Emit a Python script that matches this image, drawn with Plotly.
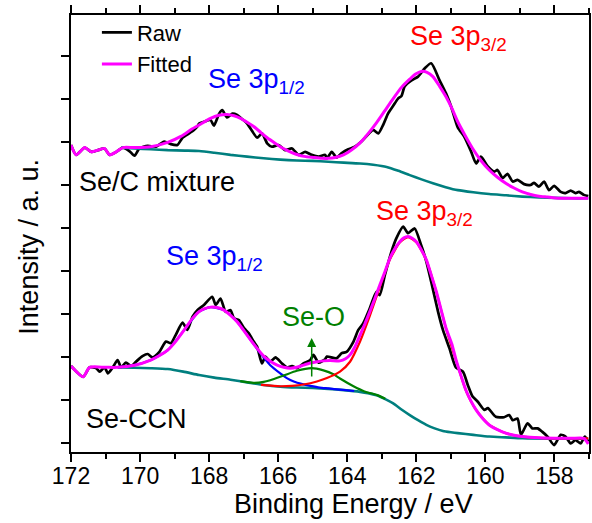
import plotly.graph_objects as go

# ---------------- data (binding energy eV, intensity a.u.) ----------------
# Se/C mixture (upper spectrum)
top_raw_E = [172.0, 171.85, 171.6, 171.41, 171.22, 171.03, 170.88, 170.69, 170.5, 170.31, 170.16, 170.02,
             169.78, 169.54, 169.3, 169.11, 168.92, 168.77, 168.58, 168.44, 168.34, 168.29, 168.15, 167.96,
             167.86, 167.71, 167.62, 167.48, 167.33, 167.19, 167.04, 166.9, 166.76, 166.61, 166.47, 166.32,
             166.18, 165.99, 165.8, 165.6, 165.41, 165.22, 165.03, 164.83, 164.64, 164.59, 164.45, 164.31,
             164.16, 163.97, 163.78, 163.59, 163.44, 163.25, 163.1, 162.96, 162.82, 162.67, 162.53, 162.43,
             162.34, 162.14, 161.95, 161.76, 161.57, 161.33, 161.14, 160.99, 160.8, 160.61, 160.41, 160.27,
             160.13, 159.93, 159.74, 159.65, 159.5, 159.36, 159.21, 159.07, 158.88, 158.69, 158.59, 158.45,
             158.3, 158.16, 158.01, 157.82, 157.68, 157.53, 157.39, 157.29, 157.15, 157.02]
top_raw_I = [6.93, 6.70, 6.87, 6.77, 6.81, 6.85, 6.70, 6.77, 6.87, 6.79, 6.68, 6.85,
             6.91, 6.89, 7.01, 6.95, 6.93, 7.10, 7.20, 7.28, 7.36, 7.43, 7.47, 7.51,
             7.38, 7.66, 7.74, 7.57, 7.66, 7.63, 7.53, 7.43, 7.26, 7.10, 7.20, 6.97,
             6.89, 6.93, 6.81, 6.85, 6.70, 6.77, 6.70, 6.66, 6.70, 6.62, 6.77, 6.64,
             6.74, 6.83, 6.89, 7.01, 7.14, 7.28, 7.20, 7.40, 7.66, 7.84, 8.01, 8.07,
             8.29, 8.43, 8.52, 8.71, 8.83, 8.44, 8.13, 7.82, 7.34, 7.12, 6.77, 6.50,
             6.66, 6.43, 6.31, 6.35, 6.16, 6.26, 6.08, 6.12, 6.02, 6.00, 6.05, 5.96,
             6.08, 5.88, 5.98, 5.84, 5.81, 5.87, 5.81, 5.84, 5.77, 5.74]

top_fit_E = [172.0, 171.85, 171.6, 171.41, 171.22, 171.03, 170.88, 170.69, 170.5, 170.16, 169.69, 169.2,
             168.82, 168.5, 168.3, 167.96, 167.72, 167.48, 167.28, 167.09, 166.9, 166.71, 166.5, 166.32,
             166.12, 165.94, 165.7, 165.46, 165.2, 164.98, 164.74, 164.55, 164.35, 164.11, 163.87, 163.63,
             163.39, 163.15, 162.91, 162.67, 162.43, 162.19, 162.02, 161.86, 161.69, 161.52, 161.33, 161.14,
             160.97, 160.8, 160.6, 160.37, 160.13, 159.89, 159.65, 159.41, 159.17, 158.93, 158.69, 158.45,
             158.2, 157.97, 157.5, 157.02]
top_fit_I = [6.93, 6.70, 6.87, 6.77, 6.81, 6.85, 6.70, 6.77, 6.87, 6.87, 6.89, 6.99,
             7.13, 7.30, 7.39, 7.55, 7.62, 7.64, 7.61, 7.55, 7.46, 7.36, 7.22, 7.10,
             6.99, 6.89, 6.79, 6.71, 6.66, 6.64, 6.62, 6.62, 6.64, 6.70, 6.82, 6.98,
             7.20, 7.45, 7.73, 8.01, 8.27, 8.46, 8.58, 8.64, 8.62, 8.52, 8.30, 8.05,
             7.78, 7.47, 7.17, 6.85, 6.57, 6.35, 6.18, 6.04, 5.93, 5.84, 5.78, 5.74,
             5.72, 5.70, 5.69, 5.69]

top_bg_E = [170.55, 170.16, 169.69, 169.2, 168.7, 168.29, 167.85, 167.38, 166.9, 166.42, 165.94, 165.46,
            165.0, 164.55, 164.1, 163.63, 163.25, 162.86, 162.52, 162.19, 161.85, 161.52, 161.15, 160.8,
            160.35, 159.89, 159.4, 158.93, 158.45, 157.97, 157.5, 157.02]
top_bg_I = [6.87, 6.85, 6.83, 6.81, 6.80, 6.79, 6.75, 6.70, 6.66, 6.62, 6.59, 6.57,
            6.56, 6.54, 6.52, 6.50, 6.47, 6.42, 6.33, 6.23, 6.13, 6.04, 5.95, 5.88,
            5.83, 5.79, 5.76, 5.73, 5.71, 5.70, 5.69, 5.69]

# Se-CCN (lower spectrum)
bot_raw_E = [172.0, 171.65, 171.46, 171.27, 171.17, 171.03, 170.93, 170.79, 170.65, 170.55, 170.41, 170.26,
             170.12, 169.93, 169.78, 169.64, 169.44, 169.25, 169.11, 168.97, 168.77, 168.63, 168.48, 168.34,
             168.15, 167.91, 167.81, 167.67, 167.52, 167.38, 167.28, 167.14, 166.99, 166.85, 166.71, 166.61,
             166.47, 166.37, 166.23, 166.08, 165.89, 165.75, 165.6, 165.46, 165.27, 165.07, 164.98, 164.83,
             164.64, 164.59, 164.31, 164.16, 164.02, 163.82, 163.68, 163.54, 163.35, 163.15, 163.06, 162.91,
             162.72, 162.58, 162.38, 162.24, 162.05, 161.86, 161.71, 161.57, 161.37, 161.23, 161.04, 160.85,
             160.65, 160.51, 160.37, 160.22, 160.03, 159.93, 159.7, 159.46, 159.31, 159.21, 159.07, 158.97,
             158.78, 158.64, 158.49, 158.35, 158.2, 158.01, 157.82, 157.68, 157.53, 157.39, 157.24, 157.12,
             157.02]
bot_raw_I = [1.79, 1.54, 1.76, 1.74, 1.66, 1.76, 1.62, 1.76, 1.93, 1.76, 1.87, 1.79,
             1.89, 2.02, 2.07, 1.99, 2.12, 2.36, 2.32, 2.51, 2.80, 2.63, 2.94, 3.09,
             3.21, 3.40, 3.21, 3.36, 3.05, 3.09, 2.90, 2.86, 2.67, 2.55, 2.36, 2.24,
             1.85, 2.01, 1.89, 1.99, 1.85, 1.76, 1.79, 1.74, 1.85, 1.93, 2.05, 1.87,
             1.95, 2.01, 1.97, 2.09, 2.12, 2.36, 2.63, 2.78, 3.13, 3.52, 3.44, 3.91,
             4.45, 4.76, 5.03, 4.88, 4.99, 4.60, 4.22, 3.75, 3.05, 2.63, 2.20, 1.75,
             1.66, 1.35, 1.08, 0.96, 0.77, 0.81, 0.61, 0.60, 0.65, 0.53, 0.57, 0.19,
             0.46, 0.34, 0.34, 0.26, 0.15, -0.05, 0.19, 0.15, -0.01, 0.07, -0.01, 0.15,
             0.03]

bot_fit_E = [172.0, 171.65, 171.46, 171.0, 170.65, 170.16, 169.69, 169.45, 169.2, 168.96, 168.72, 168.5,
             168.3, 168.15, 167.96, 167.77, 167.57, 167.38, 167.19, 167.0, 166.8, 166.61, 166.42, 166.23,
             166.03, 165.84, 165.65, 165.46, 165.27, 165.07, 164.88, 164.69, 164.5, 164.21, 164.05, 163.92,
             163.77, 163.63, 163.49, 163.35, 163.2, 163.06, 162.91, 162.77, 162.62, 162.48, 162.36, 162.24,
             162.12, 162.0, 161.86, 161.71, 161.57, 161.42, 161.28, 161.14, 160.97, 160.85, 160.7, 160.56,
             160.42, 160.27, 160.08, 159.89, 159.65, 159.41, 159.17, 158.93, 158.45, 157.97, 157.5, 157.15,
             157.02]
bot_fit_I = [1.79, 1.54, 1.76, 1.76, 1.76, 1.81, 1.93, 2.03, 2.16, 2.37, 2.63, 2.88,
             3.05, 3.12, 3.16, 3.15, 3.09, 2.97, 2.82, 2.62, 2.40, 2.20, 2.02, 1.90,
             1.81, 1.76, 1.74, 1.76, 1.81, 1.86, 1.89, 1.91, 1.92, 1.91, 1.96, 2.05,
             2.25, 2.51, 2.77, 3.05, 3.36, 3.67, 3.98, 4.29, 4.52, 4.68, 4.77, 4.80,
             4.76, 4.68, 4.50, 4.26, 3.91, 3.52, 3.09, 2.67, 2.30, 1.93, 1.55, 1.22,
             0.98, 0.77, 0.57, 0.42, 0.31, 0.23, 0.18, 0.15, 0.12, 0.11, 0.11, 0.11,
             -0.02]

bot_bg_E = [170.65, 170.16, 169.69, 169.2, 168.75, 168.29, 167.85, 167.38, 166.9, 166.42, 165.94, 165.46,
            165.0, 164.55, 164.1, 163.63, 163.4, 163.15, 162.9, 162.67, 162.43, 162.19, 161.95, 161.71,
            161.47, 161.23, 161.0, 160.8, 160.35, 159.89, 159.41, 158.93, 158.0, 157.02]
bot_bg_I = [1.76, 1.75, 1.74, 1.72, 1.66, 1.58, 1.52, 1.47, 1.41, 1.35, 1.31, 1.29,
            1.28, 1.26, 1.23, 1.19, 1.16, 1.11, 1.02, 0.92, 0.78, 0.65, 0.53, 0.42,
            0.34, 0.28, 0.25, 0.23, 0.19, 0.15, 0.13, 0.11, 0.10, 0.10]

# Se 3p1/2 component (+ background)
bot_p12_E = [170.65, 170.16, 169.69, 169.2, 168.72, 168.3, 167.96, 167.57, 167.19, 166.8, 166.52, 166.23,
             165.94, 165.75, 165.55, 165.3, 165.07, 164.8, 164.55, 164.2, 163.8]
bot_p12_I = [1.76, 1.81, 1.93, 2.16, 2.63, 3.05, 3.16, 3.09, 2.82, 2.40, 2.09, 1.81,
             1.62, 1.51, 1.43, 1.37, 1.33, 1.29, 1.27, 1.24, 1.21]

# Se-O component (+ background)
bot_seo_E = [167.1, 166.71, 166.42, 166.23, 165.84, 165.46, 165.03, 164.69, 164.4, 164.21, 163.82, 163.5,
             163.15, 162.9]
bot_seo_I = [1.44, 1.40, 1.42, 1.46, 1.57, 1.68, 1.74, 1.69, 1.60, 1.50, 1.32, 1.20,
             1.12, 1.03]

# Se 3p3/2 component (+ background)
bot_p32_E = [166.5, 165.94, 165.6, 165.27, 164.88, 164.59, 164.21, 163.92, 163.63, 163.35, 163.06, 162.77,
             162.48, 162.24, 162.0, 161.71, 161.42, 161.14, 160.85, 160.56, 160.27, 159.89, 159.41, 158.93,
             157.97, 157.02]
bot_p32_I = [1.35, 1.32, 1.33, 1.36, 1.43, 1.51, 1.66, 1.89, 2.36, 2.95, 3.62, 4.26,
             4.66, 4.79, 4.67, 4.25, 3.51, 2.66, 1.92, 1.21, 0.77, 0.42, 0.23, 0.15,
             0.11, 0.11]

x_ticks = [172, 170, 168, 166, 164, 162, 160, 158]
y_ticks = [0, 1, 2, 3, 4, 5, 6, 7, 8, 9]

# ---------------- styling ----------------
FONT = "Liberation Sans, Arial, sans-serif"
BLACK = "#000000"
MAGENTA = "#FF00FF"
TEAL = "#007F7F"
BLUE = "#0000FF"
RED = "#FF0000"
GREEN = "#008000"

fig = go.Figure()


def add_line(x, y, color, width, name=None, legend=False):
    fig.add_trace(go.Scatter(x=x, y=y, mode="lines", line=dict(color=color, width=width, shape="spline", smoothing=0.6),
                             name=name, showlegend=legend, hoverinfo="skip"))


# raw data
add_line(top_raw_E, top_raw_I, BLACK, 2.7, "Raw", True)
add_line(bot_raw_E, bot_raw_I, BLACK, 2.7)
# backgrounds
add_line(top_bg_E, top_bg_I, TEAL, 2.6)
add_line(bot_bg_E, bot_bg_I, TEAL, 2.6)
# components
add_line(bot_p12_E, bot_p12_I, BLUE, 2.2)
add_line(bot_seo_E, bot_seo_I, GREEN, 2.2)
add_line(bot_p32_E, bot_p32_I, RED, 2.2)
# fitted envelopes
add_line(top_fit_E, top_fit_I, MAGENTA, 3.0, "Fitted", True)
add_line(bot_fit_E, bot_fit_I, MAGENTA, 3.0)

ann = []


def label(text, x, y, color, size=27):
    ann.append(dict(text=text, x=x, y=y, xref="x", yref="y", xanchor="left", yanchor="middle",
                    showarrow=False, font=dict(family=FONT, size=size, color=color)))


label("Se 3p<sub>1/2</sub>", 168.08, 8.42, BLUE)
label("Se 3p<sub>3/2</sub>", 162.25, 9.42, RED)
label("Se 3p<sub>3/2</sub>", 163.24, 5.36, RED)
label("Se 3p<sub>1/2</sub>", 169.32, 4.30, BLUE)
label("Se-O", 165.96, 2.92, GREEN)
label("Se/C mixture", 171.84, 6.08, BLACK)
label("Se-CCN", 171.63, 0.55, BLACK)

# arrow marking the Se-O component
ann.append(dict(x=165.03, y=2.44, ax=165.03, ay=1.51, xref="x", yref="y", axref="x", ayref="y",
                text="", showarrow=True, arrowhead=2, arrowsize=1.2, arrowwidth=1.5, arrowcolor=GREEN))

# axis titles as annotations
ann.append(dict(text="Binding Energy / eV", x=0.546, y=-0.119, xref="paper", yref="paper",
                xanchor="center", yanchor="middle", showarrow=False,
                font=dict(family=FONT, size=27, color=BLACK)))
ann.append(dict(text="Intensity / a. u.", x=-0.081, y=0.47, xref="paper", yref="paper",
                xanchor="center", yanchor="middle", showarrow=False, textangle=-90,
                font=dict(family=FONT, size=27, color=BLACK)))

fig.update_layout(
    width=592, height=523,
    margin=dict(l=71, r=1, t=15, b=71),
    paper_bgcolor="white", plot_bgcolor="white",
    font=dict(family=FONT, size=23, color=BLACK),
    annotations=ann,
    legend=dict(x=0.05, y=1.008, xanchor="left", yanchor="top", bgcolor="rgba(0,0,0,0)",
                font=dict(family=FONT, size=22, color=BLACK), tracegroupgap=0, itemwidth=30),
    xaxis=dict(range=[172, 157], tickvals=x_ticks, ticks="outside", ticklen=8, tickwidth=1.5,
               tickcolor=BLACK, showline=True, linecolor=BLACK, linewidth=2, mirror="ticks",
               showgrid=False, zeroline=False, tickfont=dict(family=FONT, size=23, color=BLACK),
               ticklabelstandoff=-6,
               minor=dict(dtick=1, ticks="outside", ticklen=5, tickwidth=1.5, tickcolor=BLACK, showgrid=False)),
    yaxis=dict(range=[-0.209, 9.953], tickvals=y_ticks, ticks="outside", ticklen=8, tickwidth=1.5,
               tickcolor=BLACK, showticklabels=False, showline=True, linecolor=BLACK, linewidth=2,
               mirror=True, showgrid=False, zeroline=False),
)

fig.write_html("out.html")
